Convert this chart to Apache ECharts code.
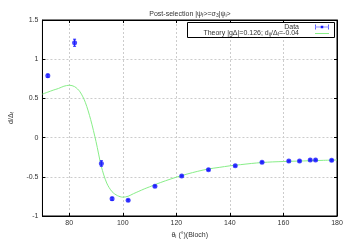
<!DOCTYPE html>
<html>
<head>
<meta charset="utf-8">
<script src="https://cdn.jsdelivr.net/npm/echarts@6/dist/echarts.min.js"></script>
<style>html,body{margin:0;padding:0;background:#fff}#c{width:350px;height:245px}</style>
</head>
<body>
<div id="c"></div>
<script>
// Measured data
var dataX = [72, 82, 92, 96, 102, 112, 122, 132, 142, 152, 162, 166, 170, 172, 178];
var dataY = [0.79, 1.21, -0.33, -0.78, -0.80, -0.62, -0.49, -0.41, -0.36, -0.315, -0.30, -0.30, -0.285, -0.285, -0.29];
var dataErr = [0.02, 0.045, 0.035, 0.02, 0.01, 0.01, 0.01, 0.01, 0.01, 0.01, 0.01, 0.01, 0.01, 0.01, 0.01];
// Theory curve
var theoryX = [70, 72, 74, 76, 78, 80, 82, 84, 86, 88, 90, 92, 94, 96, 98, 100, 102, 104, 106, 108, 110, 112, 116, 120, 124, 128, 132, 136, 140, 144, 148, 152, 156, 160, 165, 170, 175, 180];
var theoryY = [0.555, 0.58, 0.605, 0.627, 0.655, 0.668, 0.65, 0.585, 0.45, 0.23, -0.05, -0.37, -0.58, -0.69, -0.74, -0.76, -0.748, -0.715, -0.685, -0.655, -0.628, -0.6, -0.55, -0.505, -0.465, -0.43, -0.40, -0.38, -0.36, -0.345, -0.33, -0.318, -0.31, -0.305, -0.3, -0.295, -0.29, -0.285];
var xTicks = [80, 100, 120, 140, 160, 180];
var titleText = 'Post-selection |ψ{sub|f}>=σ{sub|3}|ψ{sub|i}>';
var dataName = 'Data';
var theoryName = 'Theory |gΔ|=0.126; d{sub|ij}/Δ{sub|f}=-0.04';

var FONT = '"Liberation Sans", Arial, sans-serif';
var sub = { fontSize: 5, verticalAlign: 'bottom', padding: [3, 0, 0, 0], fontFamily: FONT, color: '#333' };

var scatterData = dataX.map(function (x, i) { return [x, dataY[i]]; });
var errData = dataX.map(function (x, i) { return [x, dataY[i], dataErr[i]]; });
var theoryData = theoryX.map(function (x, i) { return [x, theoryY[i]]; });

var chart = echarts.init(document.getElementById('c'), null, { renderer: 'canvas' });
var axisLineStyle = { color: '#000', width: 1 };
var gridLine = { show: true, lineStyle: { color: '#cccccc', type: [2, 2], width: 1 } };

chart.setOption({
  animation: false,
  backgroundColor: '#fff',
  textStyle: { fontFamily: FONT },
  title: {
    text: titleText,
    left: 185, top: 5, textAlign: 'center',
    textStyle: { fontSize: 7, fontWeight: 'normal', color: '#333', fontFamily: FONT, rich: { sub: sub } }
  },
  grid: { left: 34, right: 13, top: 20, bottom: 29, show: true, borderColor: '#000', borderWidth: 1 },
  xAxis: [{
    type: 'value', min: 70, max: 180, interval: 10, position: 'bottom',
    axisLine: { onZero: false, lineStyle: axisLineStyle },
    axisTick: { inside: true, length: 3, customValues: xTicks, lineStyle: { color: '#000' } },
    axisLabel: { customValues: xTicks, fontSize: 7, color: '#333', margin: 4, fontFamily: FONT },
    splitLine: gridLine,
    name: 'θ{sub|i} (°)(Bloch)', nameLocation: 'middle', nameGap: 13,
    nameTextStyle: { fontSize: 7, color: '#333', fontFamily: FONT, rich: { sub: sub } }
  }, {
    type: 'value', min: 70, max: 180, interval: 10, position: 'top',
    axisLine: { onZero: false, lineStyle: axisLineStyle },
    axisTick: { inside: true, length: 3, customValues: xTicks, lineStyle: { color: '#000' } },
    axisLabel: { show: false }, splitLine: { show: false }
  }],
  yAxis: [{
    type: 'value', min: -1, max: 1.5, interval: 0.5, position: 'left',
    axisLine: { show: true, onZero: false, lineStyle: axisLineStyle },
    axisTick: { show: true, inside: true, length: 3, lineStyle: { color: '#000' } },
    axisLabel: { fontSize: 7, color: '#333', margin: 4, fontFamily: FONT },
    splitLine: gridLine,
    name: 'd/Δ{sub|f}', nameLocation: 'middle', nameGap: 26, nameRotate: 90,
    nameTextStyle: { fontSize: 7, color: '#333', fontFamily: FONT, rich: { sub: sub } }
  }, {
    type: 'value', min: -1, max: 1.5, interval: 0.5, position: 'right',
    axisLine: { show: true, onZero: false, lineStyle: axisLineStyle },
    axisTick: { show: true, inside: true, length: 3, lineStyle: { color: '#000' } },
    axisLabel: { show: false }, splitLine: { show: false }
  }],
  legend: [{
    data: [dataName], right: 21, top: 23.5, padding: 0, align: 'right', orient: 'vertical',
    itemWidth: 14, itemHeight: 5, z: 20,
    icon: 'path://M0,4.3H28V5.7H0Z M0,0V10H1.4V0Z M26.6,0V10H28V0Z M11.5,2.5H16.5V7.5H11.5Z',
    textStyle: { fontSize: 7, color: '#333', fontFamily: FONT, padding: [0, 11, 0, 0] },
    selectedMode: false
  }, {
    data: [theoryName], right: 21, top: 30, padding: 0, align: 'right', orient: 'vertical',
    itemWidth: 14, itemHeight: 5, z: 20,
    icon: 'path://M0,0H28V2H0Z',
    textStyle: { fontSize: 7, color: '#333', fontFamily: FONT, padding: [0, 11, 0, 0], rich: { sub: sub } },
    selectedMode: false
  }],
  graphic: [{
    type: 'rect', shape: { x: 187.5, y: 22.5, width: 147, height: 15 }, z: 10,
    style: { fill: '#fff', stroke: '#000', lineWidth: 1 }
  }],
  series: [{
    name: theoryName, type: 'line', data: theoryData, smooth: 0.3, showSymbol: false, symbol: 'none',
    lineStyle: { color: '#88ee88', width: 1 }, itemStyle: { color: '#88ee88' }, z: 2
  }, {
    name: dataName, type: 'custom', data: errData, z: 3,
    itemStyle: { color: '#1a1aff' },
    renderItem: function (params, api) {
      var x = api.value(0), y = api.value(1), e = api.value(2);
      var lo = api.coord([x, y - e]), hi = api.coord([x, y + e]);
      var st = { stroke: '#1a1aff', lineWidth: 1 };
      return { type: 'group', children: [
        { type: 'line', shape: { x1: lo[0], y1: lo[1], x2: hi[0], y2: hi[1] }, style: st },
        { type: 'line', shape: { x1: lo[0] - 1.5, y1: lo[1], x2: lo[0] + 1.5, y2: lo[1] }, style: st },
        { type: 'line', shape: { x1: hi[0] - 1.5, y1: hi[1], x2: hi[0] + 1.5, y2: hi[1] }, style: st }
      ] };
    }
  }, {
    name: dataName, type: 'scatter', data: scatterData, symbol: 'circle', symbolSize: 5,
    itemStyle: { color: '#1a1aff' }, z: 4
  }]
});
</script>
</body>
</html>
